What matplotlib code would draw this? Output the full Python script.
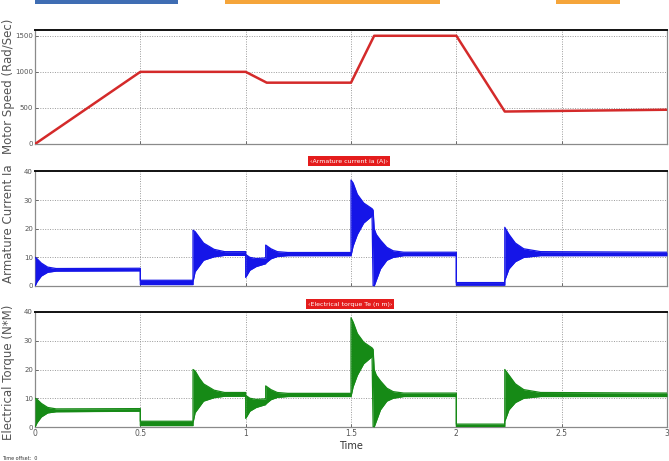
import matplotlib
matplotlib.use("Agg")
import matplotlib.pyplot as plt
from matplotlib.patches import Rectangle

# ---- Motor speed (Rad/Sec) breakpoints ----
speed_t = [0.0, 0.5, 1.0, 1.1, 1.5, 1.61, 2.0, 2.23, 3.0]
speed_w = [0, 1000, 1000, 850, 850, 1500, 1500, 450, 475]

# ---- Armature current envelope (A): time, upper and lower ripple bounds ----
ia_t = [0.0, 0.01, 0.03, 0.06, 0.1, 0.5, 0.5, 0.75, 0.75, 0.76, 0.78, 0.8, 0.85, 0.9,
        1.0, 1.0, 1.02, 1.05, 1.095, 1.095, 1.12, 1.15, 1.2, 1.5, 1.5, 1.51, 1.53,
        1.56, 1.6, 1.605, 1.61, 1.62, 1.64, 1.67, 1.7, 1.75, 2.0, 2.0, 2.23, 2.23,
        2.25, 2.28, 2.32, 2.4, 3.0]
ia_hi = [10.0, 9.5, 8.0, 6.6, 6.1, 6.2, 2.0, 2.0, 19.5, 19.0, 17.0, 15.0, 12.8, 12.0,
         12.0, 11.0, 10.0, 9.6, 9.8, 14.3, 13.0, 12.0, 11.7, 11.7, 37.0, 36.0, 32.0,
         29.0, 27.0, 26.5, 20.0, 18.0, 16.0, 13.5, 12.3, 11.8, 11.8, 1.2, 1.2, 20.5,
         18.0, 15.0, 13.0, 12.0, 11.8]
ia_lo = [0.0, 1.5, 3.5, 4.8, 5.2, 5.3, 0.5, 0.5, 1.5, 5.0, 7.0, 9.0, 10.2, 10.7,
         10.7, 3.0, 5.5, 6.8, 7.8, 8.0, 9.5, 10.3, 10.6, 10.6, 10.6, 14.0, 18.0,
         22.0, 24.5, 0.0, 0.0, 2.0, 6.0, 9.0, 10.0, 10.6, 10.6, 0.3, 0.3, 2.0,
         6.0, 8.5, 10.0, 10.6, 10.6]

# ---- Electrical torque envelope (N*M) ----
te_t = [0.0, 0.01, 0.03, 0.06, 0.1, 0.5, 0.5, 0.75, 0.75, 0.76, 0.78, 0.8, 0.85, 0.9,
        1.0, 1.0, 1.02, 1.05, 1.095, 1.095, 1.12, 1.15, 1.2, 1.5, 1.5, 1.51, 1.53,
        1.56, 1.6, 1.605, 1.61, 1.62, 1.64, 1.67, 1.7, 1.75, 2.0, 2.0, 2.23, 2.23,
        2.25, 2.28, 2.32, 2.4, 3.0]
te_hi = [10.0, 9.6, 8.2, 6.8, 6.3, 6.4, 2.0, 2.0, 20.0, 19.5, 17.0, 15.0, 12.8, 12.0,
         12.0, 11.0, 10.0, 9.6, 9.8, 14.3, 13.0, 12.0, 11.7, 11.7, 38.0, 36.5, 32.5,
         29.5, 27.5, 27.0, 20.0, 18.0, 16.0, 13.5, 12.3, 11.8, 11.8, 1.0, 1.0, 20.0,
         18.0, 15.0, 13.0, 12.0, 11.8]
te_lo = [0.0, 1.5, 3.5, 4.9, 5.3, 5.5, 0.5, 0.5, 1.5, 5.0, 7.0, 9.0, 10.2, 10.7,
         10.7, 3.0, 5.5, 6.8, 7.8, 8.0, 9.5, 10.3, 10.6, 10.6, 10.6, 14.0, 18.0,
         22.0, 24.5, 0.0, 0.0, 2.0, 6.0, 9.0, 10.0, 10.6, 10.6, 0.2, 0.2, 2.0,
         6.0, 8.5, 10.0, 10.6, 10.6]

x_ticks = [0, 0.5, 1, 1.5, 2, 2.5, 3]
x_tick_labels = ["0", "0.5", "1", "1.5", "2", "2.5", "3"]

W, H = 669, 461
fig = plt.figure(figsize=(W / 100, H / 100), dpi=100)
fig.patch.set_facecolor("white")


def frac_axes(x0, y0, x1, y1):
    """Create axes from pixel box (top-left origin)."""
    return fig.add_axes([x0 / W, 1 - y1 / H, (x1 - x0) / W, (y1 - y0) / H])


def style(ax, yticks, ymax, show_x):
    ax.set_xlim(0, 3)
    ax.set_ylim(0, ymax)
    ax.set_yticks(yticks)
    ax.set_yticklabels([str(v) for v in yticks], fontsize=5, color="#333333")
    ax.set_xticks(x_ticks)
    if show_x:
        ax.set_xticklabels(x_tick_labels, fontsize=5.5, color="#333333")
    else:
        ax.set_xticklabels([])
    ax.tick_params(direction="in", length=2, width=0.6, pad=1.5, colors="#555555")
    ax.grid(True, linestyle=(0, (1, 1.5)), color="#9a9a9a", linewidth=0.7)
    for s in ("left", "right", "bottom"):
        ax.spines[s].set_color("#8a8a8a")
        ax.spines[s].set_linewidth(0.9)
    ax.spines["top"].set_color("#111111")
    ax.spines["top"].set_linewidth(1.4)


# Motor speed
ax1 = frac_axes(35, 30, 667, 144)
ax1.plot(speed_t, speed_w, color="#d42a2a", linewidth=1.8, zorder=3)
style(ax1, [0, 500, 1000, 1500], 1580, False)

# Armature current
ax2 = frac_axes(35, 171.5, 667, 286)
ax2.fill_between(ia_t, ia_lo, ia_hi, color="#1515e8", linewidth=0, zorder=3)
ax2.plot(ia_t, ia_hi, color="#1515e8", linewidth=0.9, zorder=3)
ax2.plot(ia_t, ia_lo, color="#1515e8", linewidth=0.9, zorder=3)
style(ax2, [0, 10, 20, 30, 40], 40, False)

# Electrical torque
ax3 = frac_axes(35, 312, 667, 427)
ax3.fill_between(te_t, te_lo, te_hi, color="#168a16", linewidth=0, zorder=3)
ax3.plot(te_t, te_hi, color="#168a16", linewidth=0.9, zorder=3)
ax3.plot(te_t, te_lo, color="#168a16", linewidth=0.9, zorder=3)
style(ax3, [0, 10, 20, 30, 40], 40, True)
ax3.set_xlabel("Time", fontsize=7, color="#333333", labelpad=2)

# Vertical axis labels
lab_kw = dict(rotation=90, ha="center", va="center", fontsize=8.5, color="#555555")
fig.text(9 / W, 1 - 86 / H, "Motor Speed (Rad/Sec)", **lab_kw)
fig.text(9 / W, 1 - 224 / H, "Armature Current Ia", **lab_kw)
fig.text(9 / W, 1 - 372 / H, "Electrical Torque (N*M)", **lab_kw)

# Signal name tags
tag_kw = dict(ha="center", va="center", fontsize=4.5, color="white",
              bbox=dict(boxstyle="square,pad=0.35", facecolor="#e41c1c", edgecolor="none"))
fig.text(349 / W, 1 - 161 / H, "\u2039Armature current ia (A)\u203a", **tag_kw)
fig.text(350 / W, 1 - 304 / H, "\u2039Electrical torque Te (n m)\u203a", **tag_kw)

fig.text(2 / W, 1 - 458 / H, "Time offset:  0", fontsize=3.5, color="#333333",
         ha="left", va="center")

# Header strips
for x0, x1, c in [(35, 178, "#3f6db3"), (225, 440, "#f5a53a"), (556, 620, "#f5a53a")]:
    fig.add_artist(Rectangle((x0 / W, 1 - 4 / H), (x1 - x0) / W, 4 / H,
                             transform=fig.transFigure, facecolor=c, edgecolor="none"))

fig.savefig("out.png", dpi=100)
